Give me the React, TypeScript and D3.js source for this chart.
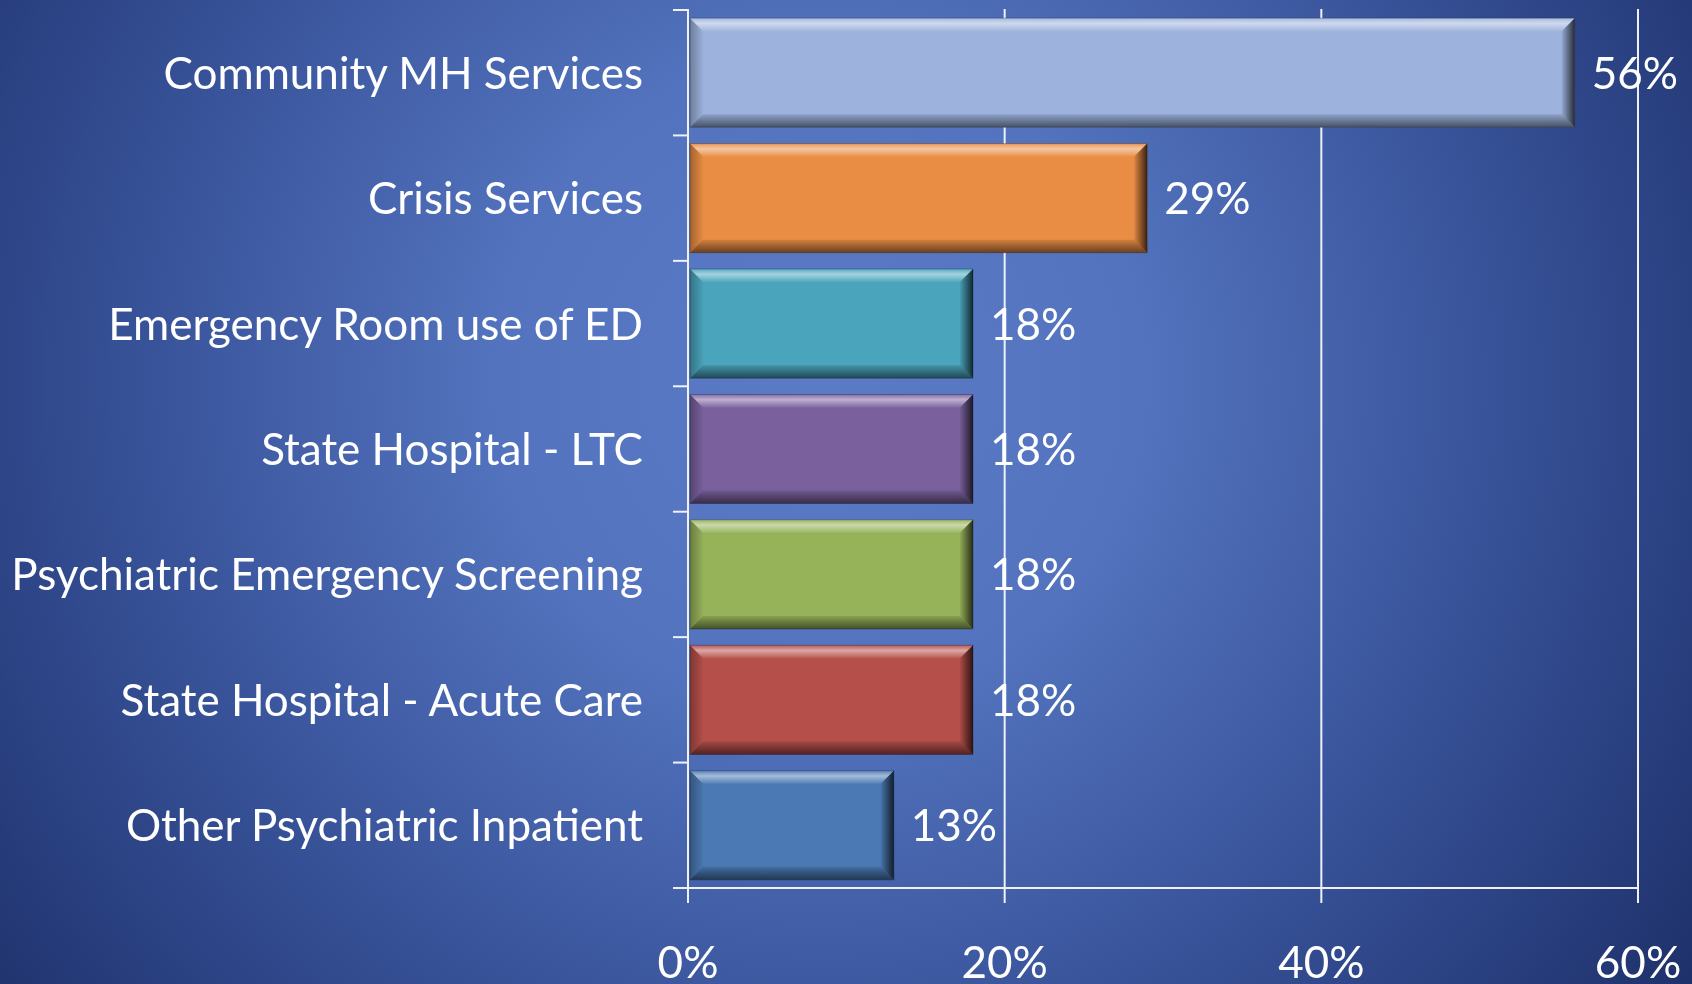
import { useEffect, useRef } from 'react';
import * as d3 from 'd3';

const categories = [
  'Community MH Services',
  'Crisis Services',
  'Emergency Room use of ED',
  'State Hospital - LTC',
  'Psychiatric Emergency Screening',
  'State Hospital - Acute Care',
  'Other Psychiatric Inpatient',
];
const values = [56, 29, 18, 18, 18, 18, 13];
const barColors = ['#9DB3DD', '#E98D45', '#4AA4BC', '#7A619E', '#97B35A', '#B54F4A', '#4A79B3'];
const xTicks = [0, 20, 40, 60];

export default function App() {
  const ref = useRef<SVGSVGElement | null>(null);

  useEffect(() => {
    const W = 1692;
    const H = 984;
    const svg = d3.select(ref.current);
    svg.selectAll('*').remove();
    svg.attr('width', W).attr('height', H);

    const defs = svg.append('defs');
    const bg = defs.append('radialGradient')
      .attr('id', 'bg')
      .attr('gradientUnits', 'userSpaceOnUse')
      .attr('cx', 820).attr('cy', 380).attr('r', 1080);
    [['0', '#5B7BC6'], ['0.3', '#5373BE'], ['0.6', '#3A559C'], ['0.85', '#273D7C'], ['1', '#1D2F68']]
      .forEach(([o, c]) => bg.append('stop').attr('offset', o).attr('stop-color', c));

    // bevel overlays
    const mk = (id: string, x2: number, y2: number, stops: [number, string, number][]) => {
      const g = defs.append('linearGradient').attr('id', id)
        .attr('x1', 0).attr('y1', 0).attr('x2', x2).attr('y2', y2);
      stops.forEach(([o, c, a]) => g.append('stop').attr('offset', o).attr('stop-color', c).attr('stop-opacity', a));
    };
    mk('bvTop', 0, 1, [[0, '#ffffff', 0.08], [0.4, '#ffffff', 0.5], [1, '#ffffff', 0.05]]);
    mk('bvLeft', 1, 0, [[0, '#000000', 0.3], [1, '#000000', 0.02]]);
    mk('bvRight', 1, 0, [[0, '#000000', 0.05], [1, '#000000', 0.75]]);
    mk('bvBottom', 0, 1, [[0, '#000000', 0.1], [1, '#000000', 0.55]]);

    svg.append('rect').attr('width', W).attr('height', H).attr('fill', 'url(#bg)');

    const margin = { top: 10, right: 54, bottom: 96, left: 688 };
    const plotW = W - margin.left - margin.right;
    const plotH = H - margin.top - margin.bottom;

    const x = d3.scaleLinear().domain([0, 60]).range([0, plotW]);
    const y = d3.scaleBand().domain(categories).range([0, plotH]).paddingInner(0.13).paddingOuter(0.065);
    const step = y.step();

    const g = svg.append('g').attr('transform', `translate(${margin.left},${margin.top})`);
    const lineColor = '#EEF1F8';
    const font = 'Lato, "Open Sans", sans-serif';

    // vertical gridlines
    g.selectAll('.grid')
      .data(xTicks.slice(1))
      .enter()
      .append('line')
      .attr('x1', d => x(d)).attr('x2', d => x(d))
      .attr('y1', -1).attr('y2', plotH)
      .attr('stroke', lineColor).attr('stroke-width', 2);

    // bars
    const bevel = 13;
    const bars = g.selectAll('.bar')
      .data(values)
      .enter()
      .append('g')
      .attr('class', 'bar');
    bars.each(function (d, i) {
      const b = d3.select(this);
      const x0 = 2;
      const x1 = x(d);
      const y0 = y(categories[i])!;
      const y1 = y0 + y.bandwidth();
      const e = bevel;
      b.append('rect').attr('x', x0).attr('y', y0).attr('width', x1 - x0).attr('height', y1 - y0)
        .attr('fill', barColors[i]);
      const poly = (pts: number[][], fill: string) =>
        b.append('polygon').attr('points', pts.map(p => p.join(',')).join(' ')).attr('fill', fill);
      poly([[x0, y0], [x1, y0], [x1 - e, y0 + e], [x0 + e, y0 + e]], 'url(#bvTop)');
      poly([[x0, y0], [x0 + e, y0 + e], [x0 + e, y1 - e], [x0, y1]], 'url(#bvLeft)');
      poly([[x1, y0], [x1, y1], [x1 - e, y1 - e], [x1 - e, y0 + e]], 'url(#bvRight)');
      poly([[x0, y1], [x0 + e, y1 - e], [x1 - e, y1 - e], [x1, y1]], 'url(#bvBottom)');
      b.append('rect').attr('x', x0).attr('y', y0).attr('width', x1 - x0).attr('height', y1 - y0)
        .attr('fill', 'none').attr('stroke', '#000').attr('stroke-opacity', 0.25).attr('stroke-width', 1);
    });

    // axes
    g.append('line').attr('x1', 0).attr('x2', 0).attr('y1', -1).attr('y2', plotH)
      .attr('stroke', lineColor).attr('stroke-width', 2);
    g.append('line').attr('x1', -15).attr('x2', plotW).attr('y1', plotH).attr('y2', plotH)
      .attr('stroke', lineColor).attr('stroke-width', 2);
    g.selectAll('.ytick')
      .data(d3.range(categories.length + 1))
      .enter()
      .append('line')
      .attr('x1', -15).attr('x2', 0)
      .attr('y1', d => d * step).attr('y2', d => d * step)
      .attr('stroke', lineColor).attr('stroke-width', 2);
    g.selectAll('.xtick')
      .data(xTicks)
      .enter()
      .append('line')
      .attr('x1', d => x(d)).attr('x2', d => x(d))
      .attr('y1', plotH).attr('y2', plotH + 15)
      .attr('stroke', lineColor).attr('stroke-width', 2);

    // x tick labels
    g.selectAll('.xlabel')
      .data(xTicks)
      .enter()
      .append('text')
      .text(d => `${d}%`)
      .attr('x', d => x(d))
      .attr('y', plotH + 90)
      .attr('text-anchor', 'middle')
      .attr('fill', '#fff')
      .attr('font-size', '44px')
      .attr('font-family', font);

    // category labels
    g.selectAll('.ylabel')
      .data(categories)
      .enter()
      .append('text')
      .text(d => d)
      .attr('x', -45)
      .attr('y', d => y(d)! + y.bandwidth() / 2 + 16)
      .attr('text-anchor', 'end')
      .attr('fill', '#fff')
      .attr('font-size', '44px')
      .attr('font-family', font);

    // value labels
    g.selectAll('.vlabel')
      .data(values)
      .enter()
      .append('text')
      .text(d => `${d}%`)
      .attr('x', d => x(d) + 17)
      .attr('y', (d, i) => y(categories[i])! + y.bandwidth() / 2 + 16)
      .attr('fill', '#fff')
      .attr('font-size', '44px')
      .attr('font-family', font);
  }, []);

  return <svg ref={ref} style={{ position: 'fixed', left: 0, top: 0, display: 'block' }} />;
}
